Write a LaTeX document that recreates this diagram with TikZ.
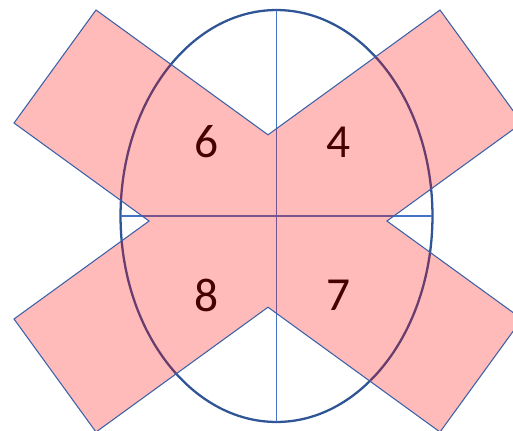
\documentclass[tikz,border=0pt]{standalone}
\usepackage{fontspec}
\setmainfont{Carlito}
\usetikzlibrary{positioning,shapes.geometric}
\definecolor{OvalBlue}{RGB}{47,85,151}
\definecolor{AxisBlue}{RGB}{68,114,196}
\definecolor{CrossRed}{RGB}{255,0,0}

\begin{document}
\begin{tikzpicture}[x=0.02cm, y=-0.02cm, every node/.style={font=\fontsize{27}{30}\selectfont, inner sep=0pt}]
  \useasboundingbox (0,0) rectangle (513,430);
  \clip (0,0) rectangle (513,430);
  \node[draw=OvalBlue, line width=1.3pt, ellipse, minimum width=6.24cm, minimum height=8.24cm, outer sep=0pt] (oval) at (276.5,216) {};
  \draw[AxisBlue, line width=0.6pt] (oval.north) -- (oval.south);
  \draw[AxisBlue, line width=0.6pt] (oval.west) -- (oval.east);
  \node (q6) at (206.7,142) {6};
  \node (q4) at (338.3,142) {4};
  \node (q8) at (206.7,295) {8};
  \node (q7) at (338.3,295) {7};
  \filldraw[fill=CrossRed, fill opacity=0.27, draw=AxisBlue!85!black, line width=0.6pt]
    (96,10) -- (268,134.8) -- (440,10) -- (522,123) -- (386.9,221) -- (522,319)
    -- (440,432) -- (268,307.2) -- (96,432) -- (14,319) -- (149.1,221) -- (14,123) -- cycle;
\end{tikzpicture}
\end{document}
